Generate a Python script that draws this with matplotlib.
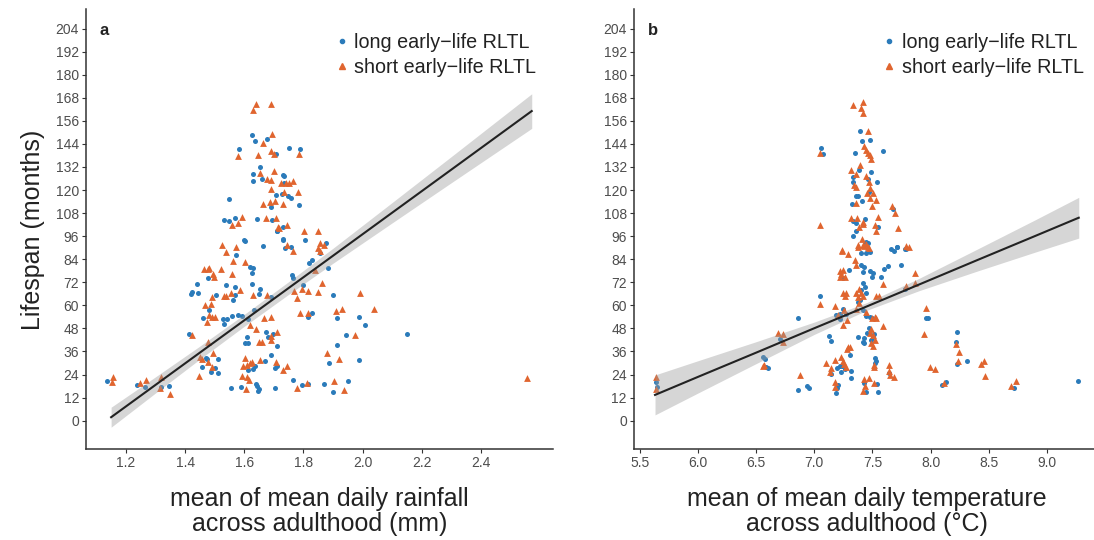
import numpy as np
import matplotlib
matplotlib.use("Agg")
import matplotlib.pyplot as plt
from matplotlib.lines import Line2D

plt.rcParams['font.family'] = ['Liberation Sans', 'DejaVu Sans']

# ---- panel a: rainfall vs lifespan ----
rain_long = [
    (1.137, 20.7), (1.236, 18.4), (1.264, 17.4), (1.317, 17.4), (1.344, 18.1),
    (1.602, 93.5), (1.662, 90.9), (1.712, 98.7), (1.730, 93.8), (1.804, 93.8), (1.739, 89.7),
    (1.757, 90.2), (1.876, 92.6), (1.856, 87.1), (1.571, 86.2), (1.820, 81.9), (1.828, 83.6),
    (1.883, 79.6), (1.621, 80.1), (1.628, 79.3), (1.627, 76.7), (1.478, 74.1), (1.441, 71.1),
    (1.422, 67.1), (1.419, 65.9), (1.445, 66.2), (1.537, 70.6), (1.569, 69.4), (1.627, 70.9),
    (1.655, 68.5), (1.651, 65.7), (1.504, 65.4), (1.569, 65.4), (1.563, 62.8), (1.689, 64.2),
    (1.761, 75.8), (1.764, 74.1), (1.800, 70.6), (1.901, 65.4), (1.633, 57.6), (1.482, 57.6),
    (1.461, 53.2), (1.529, 52.7), (1.543, 52.7), (1.560, 54.5), (1.578, 55.0), (1.594, 54.5),
    (1.614, 52.7), (1.532, 50.1), (1.828, 55.8), (1.814, 53.8), (1.989, 53.8), (2.009, 49.8),
    (1.914, 53.6), (1.412, 45.1), (1.673, 45.9), (1.681, 43.4), (1.696, 45.1), (1.608, 43.4),
    (1.602, 40.6), (1.613, 40.6), (1.712, 39.0), (1.943, 44.4), (2.151, 44.9), (1.692, 34.2),
    (1.914, 39.4), (1.470, 32.4), (1.475, 32.2), (1.512, 31.9), (1.501, 27.2), (1.457, 27.7),
    (1.487, 25.5), (1.510, 24.6), (1.636, 28.6), (1.614, 26.4), (1.628, 26.7), (1.670, 31.2),
    (1.705, 27.2), (1.712, 28.6), (1.555, 17.0), (1.589, 17.7), (1.640, 19.1), (1.642, 17.8),
    (1.647, 15.3), (1.650, 16.3), (1.704, 17.0), (1.989, 31.6), (1.887, 29.8), (1.766, 21.0),
    (1.796, 18.6), (1.815, 18.9), (1.870, 19.2), (1.899, 14.7), (1.952, 20.6),
    (1.627, 148.7), (1.636, 145.6), (1.676, 146.4), (1.584, 141.4), (1.707, 138.8), (1.752, 141.9),
    (1.652, 132.0), (1.630, 128.6), (1.630, 124.9), (1.659, 125.8), (1.732, 127.9), (1.736, 127.5),
    (1.734, 123.6), (1.709, 117.6), (1.728, 117.8), (1.749, 117.0), (1.757, 115.7), (1.786, 112.3),
    (1.690, 111.1), (1.549, 115.4), (1.532, 104.5), (1.549, 103.8), (1.569, 105.3), (1.643, 105.0),
    (1.695, 104.5), (1.711, 98.9), (1.732, 100.6), (1.600, 94.0), (1.730, 94.4), (1.790, 141.5),
]
rain_short = [
    (1.155, 22.6), (1.152, 20.0), (1.247, 19.8), (1.268, 21.2), (1.317, 22.9), (1.315, 16.9),
    (1.349, 13.9), (1.526, 91.4), (1.572, 90.5), (1.802, 98.7), (1.851, 98.7), (1.743, 91.4),
    (1.764, 88.4), (1.856, 92.3), (1.869, 91.4), (1.850, 89.7), (1.856, 88.4), (1.538, 87.6),
    (1.561, 83.2), (1.601, 82.7), (1.840, 78.4), (1.464, 78.7), (1.477, 78.7), (1.482, 79.2),
    (1.493, 76.3), (1.499, 74.6), (1.523, 78.7), (1.560, 76.3), (1.585, 68.0), (1.533, 65.0),
    (1.540, 65.0), (1.554, 66.6), (1.628, 65.4), (1.678, 65.4), (1.490, 64.2), (1.469, 60.2),
    (1.486, 60.5), (1.769, 67.6), (1.797, 68.5), (1.816, 67.5), (1.779, 64.0), (1.850, 67.1),
    (1.864, 71.8), (1.992, 66.2), (1.482, 55.0), (1.490, 53.8), (1.501, 53.8), (1.473, 51.5),
    (1.667, 53.2), (1.689, 53.8), (1.619, 49.8), (1.640, 47.5), (1.788, 56.2), (1.814, 56.2),
    (1.910, 57.1), (1.929, 57.9), (2.038, 57.9), (1.424, 44.6), (1.712, 45.9), (1.689, 44.3),
    (1.659, 41.1), (1.651, 41.1), (1.689, 42.0), (1.973, 44.6), (1.478, 41.1), (1.495, 35.4),
    (1.881, 35.4), (1.450, 33.3), (1.456, 31.9), (1.478, 30.7), (1.490, 28.1), (1.447, 23.4),
    (1.602, 32.4), (1.597, 28.4), (1.608, 29.0), (1.619, 29.8), (1.625, 30.7), (1.594, 23.4),
    (1.608, 22.9), (1.617, 21.2), (1.653, 31.6), (1.707, 30.3), (1.730, 26.4), (1.743, 28.6),
    (1.606, 16.3), (1.920, 32.1), (1.779, 17.2), (1.813, 19.8), (1.904, 20.8), (1.939, 15.9),
    (2.556, 22.2),
    (1.639, 164.8), (1.691, 164.8), (1.630, 161.7), (1.694, 149.0), (1.662, 144.4), (1.580, 137.8),
    (1.648, 138.3), (1.692, 140.4), (1.700, 138.8), (1.786, 138.8), (1.652, 129.1), (1.700, 130.0),
    (1.678, 125.8), (1.692, 125.3), (1.766, 124.9), (1.726, 123.9), (1.741, 123.9), (1.751, 123.9),
    (1.692, 120.6), (1.735, 118.9), (1.783, 119.2), (1.664, 112.8), (1.687, 113.7), (1.704, 114.5),
    (1.730, 112.8), (1.593, 106.2), (1.557, 101.9), (1.580, 102.7), (1.672, 105.7), (1.706, 105.3),
    (1.713, 101.0), (1.718, 100.1), (1.745, 102.0),
]
# fitted line and 95% band
rain_fit_x = [1.15, 1.30, 1.45, 1.60, 1.75, 1.90, 2.10, 2.30, 2.572]
rain_fit_y = [1.8, 18.6, 35.4, 52.2, 69.0, 85.8, 108.2, 130.6, 161.1]
rain_fit_lo = [-3.4, 14.4, 32.0, 49.1, 65.7, 81.9, 102.9, 123.8, 152.1]
rain_fit_hi = [7.0, 22.8, 38.8, 55.3, 72.3, 89.7, 113.5, 137.4, 170.1]

# ---- panel b: temperature vs lifespan ----
temp_long = [
    (5.637, 20.3), (5.649, 17.7), (6.555, 33.0), (6.575, 31.9), (6.603, 27.2), (6.583, 27.8),
    (6.704, 42.5), (6.856, 53.4), (7.048, 65.0), (7.128, 44.2), (7.148, 41.6), (6.864, 15.8),
    (6.939, 18.0), (6.956, 17.2), (7.197, 27.2), (7.148, 24.1), (7.202, 18.7), (7.197, 16.8),
    (7.191, 14.6), (7.240, 28.6), (7.263, 26.7), (7.225, 28.4), (7.234, 25.5), (7.314, 25.7),
    (7.314, 22.0), (7.306, 34.2), (7.300, 78.4), (7.248, 74.0), (7.243, 57.9), (7.185, 54.8),
    (7.220, 55.5), (7.225, 52.7), (7.277, 55.5), (7.449, 92.3), (7.406, 87.4), (7.449, 87.1),
    (7.483, 87.9), (7.406, 81.0), (7.426, 80.1), (7.420, 77.5), (7.506, 76.7), (7.500, 74.9),
    (7.483, 78.0), (7.415, 71.5), (7.435, 69.7), (7.406, 68.0), (7.449, 66.3), (7.377, 61.9),
    (7.392, 62.8), (7.420, 57.6), (7.449, 54.5), (7.572, 74.9), (7.601, 78.7), (7.635, 80.5),
    (7.664, 89.1), (7.684, 88.5), (7.715, 90.5), (7.750, 81.0), (7.781, 89.1), (7.483, 54.1),
    (7.495, 53.6), (7.472, 48.4), (7.457, 45.8), (7.510, 45.0), (7.506, 43.7), (7.492, 42.0),
    (7.426, 42.8), (7.377, 43.4), (7.415, 41.1), (7.429, 40.2), (7.520, 32.4), (7.529, 31.2),
    (7.520, 30.2), (7.426, 19.4), (7.449, 15.1), (7.540, 19.1), (7.549, 15.1), (7.644, 25.0),
    (7.784, 68.3), (7.965, 53.2), (7.980, 53.6),
    (7.392, 150.6), (7.412, 145.7), (7.478, 146.1), (7.054, 141.9), (7.074, 138.5), (7.352, 139.5),
    (7.595, 140.5), (7.386, 130.5), (7.492, 129.6), (7.334, 126.7), (7.329, 124.1), (7.541, 124.2),
    (7.464, 125.6), (7.472, 118.9), (7.355, 117.0), (7.380, 117.0), (7.412, 114.5), (7.323, 112.6),
    (7.673, 110.0), (7.334, 104.1), (7.363, 103.1), (7.438, 104.8), (7.544, 101.0), (7.355, 98.9),
    (7.332, 96.1), (7.449, 92.9), (7.463, 92.2), (7.713, 90.6), (7.787, 89.2),
    (8.229, 46.1), (8.218, 40.7), (8.229, 29.3), (8.315, 31.0), (8.100, 18.4), (8.129, 20.3),
    (8.716, 17.0), (9.267, 20.6),
]
temp_short = [
    (5.637, 22.5), (5.637, 16.5), (6.566, 29.0), (6.560, 28.4), (6.690, 45.8), (6.727, 45.1),
    (6.732, 41.1), (7.048, 60.7), (6.881, 23.6), (7.105, 29.8), (7.174, 31.6), (7.145, 27.2),
    (7.134, 25.5), (7.177, 20.3), (7.179, 17.7), (7.231, 33.3), (7.246, 31.2), (7.254, 29.5),
    (7.271, 28.1), (7.291, 38.2), (7.311, 38.2), (7.283, 37.1), (7.240, 88.5), (7.291, 86.7),
    (7.349, 83.6), (7.363, 81.0), (7.225, 78.0), (7.248, 78.4), (7.234, 76.3), (7.263, 74.9),
    (7.225, 74.9), (7.277, 66.3), (7.243, 66.6), (7.263, 64.9), (7.177, 59.7), (7.257, 57.6),
    (7.200, 55.0), (7.283, 52.4), (7.248, 49.8), (7.377, 90.5), (7.420, 91.4), (7.463, 90.5),
    (7.363, 66.3), (7.377, 64.5), (7.398, 66.3), (7.386, 68.3), (7.420, 64.9), (7.363, 57.9),
    (7.386, 61.0), (7.449, 56.7), (7.535, 64.9), (7.558, 64.9), (7.587, 71.1), (7.793, 90.9),
    (7.500, 53.2), (7.535, 53.2), (7.520, 54.1), (7.587, 49.3), (7.492, 47.5), (7.483, 45.8),
    (7.506, 44.6), (7.520, 42.0), (7.492, 40.2), (7.506, 39.0), (7.512, 29.0), (7.512, 28.1),
    (7.426, 21.5), (7.472, 22.0), (7.440, 18.2), (7.420, 15.6), (7.512, 19.8), (7.644, 29.0),
    (7.644, 26.0), (7.650, 23.8), (7.684, 22.5), (7.787, 70.1), (7.865, 76.7), (7.865, 71.5),
    (7.959, 58.4), (7.945, 44.9), (7.993, 28.1),
    (7.332, 164.3), (7.415, 166.0), (7.403, 162.6), (7.420, 160.0), (7.461, 150.8), (7.048, 139.5),
    (7.426, 143.0), (7.443, 140.9), (7.464, 139.5), (7.478, 138.3), (7.486, 136.0), (7.389, 133.1),
    (7.314, 130.5), (7.363, 128.4), (7.343, 122.7), (7.363, 121.8), (7.449, 127.4), (7.472, 124.4),
    (7.478, 120.9), (7.455, 118.3), (7.478, 115.7), (7.535, 114.9), (7.506, 118.7), (7.357, 113.1),
    (7.495, 111.7), (7.667, 111.9), (7.698, 108.3), (7.051, 101.9), (7.320, 105.3), (7.366, 105.5),
    (7.415, 103.6), (7.420, 102.4), (7.544, 105.9), (7.521, 101.9), (7.535, 98.9), (7.386, 101.0),
    (7.716, 100.5), (7.409, 94.4), (7.443, 92.0), (7.378, 91.5), (7.426, 90.8), (7.472, 90.1),
    (7.813, 90.6), (7.240, 88.9),
    (8.040, 26.9), (8.246, 35.9), (8.235, 30.8), (8.430, 29.5), (8.458, 30.8), (8.470, 23.4),
    (8.114, 19.6), (8.690, 18.2), (8.736, 20.4), (8.220, 40.0),
]
temp_fit_x = [5.63, 6.0, 6.5, 7.0, 7.45, 7.9, 8.4, 8.9, 9.275]
temp_fit_y = [13.4, 22.8, 35.4, 48.1, 59.4, 70.8, 83.5, 96.1, 105.6]
temp_fit_lo = [3.0, 14.4, 29.7, 44.9, 57.4, 67.6, 77.8, 87.7, 95.0]
temp_fit_hi = [23.8, 31.2, 41.1, 51.3, 61.4, 74.0, 89.2, 104.5, 116.2]

y_ticks = list(range(0, 205, 12))
rain_ticks = [1.2, 1.4, 1.6, 1.8, 2.0, 2.2, 2.4]
temp_ticks = [5.5, 6.0, 6.5, 7.0, 7.5, 8.0, 8.5, 9.0]

BLUE = '#2b7bba'
ORANGE = '#e0652f'
AXIS_COL = '#333333'
TEXT_COL = '#4d4d4d'


def draw_panel(ax, long_pts, short_pts, fx, fy, flo, fhi, letter, xlabel, xticks, xlim):
    lx, ly = zip(*long_pts)
    sx, sy = zip(*short_pts)
    ax.scatter(lx, ly, s=13, marker='o', color=BLUE, linewidths=0, zorder=2)
    ax.scatter(sx, sy, s=24, marker='^', color=ORANGE, linewidths=0, zorder=2)
    ax.fill_between(fx, flo, fhi, color='#999999', alpha=0.4, linewidth=0, zorder=3)
    ax.plot(fx, fy, color='#222222', linewidth=1.5, zorder=4)

    ax.set_xlim(*xlim)
    ax.set_ylim(-15, 214)
    ax.set_yticks(y_ticks)
    ax.set_xticks(xticks)
    ax.set_xticklabels([f'{t:.1f}' for t in xticks])
    for s in ['top', 'right']:
        ax.spines[s].set_visible(False)
    for s in ['left', 'bottom']:
        ax.spines[s].set_color(AXIS_COL)
        ax.spines[s].set_linewidth(1.1)
    ax.tick_params(axis='both', length=3, width=0.8, color=AXIS_COL,
                   labelsize=10, labelcolor=TEXT_COL, pad=2)
    ax.set_xlabel(xlabel, fontsize=18, color='#222222', labelpad=12, linespacing=1.05)
    ax.text(0.03, 0.952, letter, transform=ax.transAxes, fontsize=12,
            fontweight='bold', color='#222222', va='center', ha='left')

    handles = [
        Line2D([], [], marker='o', linestyle='none', color=BLUE, markersize=3),
        Line2D([], [], marker='^', linestyle='none', color=ORANGE, markersize=4),
    ]
    ax.legend(handles, ['long early\u2212life RLTL', 'short early\u2212life RLTL'],
              loc='upper left', bbox_to_anchor=(0.505, 0.977), frameon=False,
              fontsize=14.2, handlelength=0.6, handletextpad=0.35, labelspacing=0.27,
              borderaxespad=0.3, labelcolor='#222222')


fig = plt.figure(figsize=(10.94, 5.40), dpi=100)
ax_a = fig.add_axes([0.0786, 0.1676, 0.4269, 0.815])
ax_b = fig.add_axes([0.5793, 0.1676, 0.4261, 0.815])

draw_panel(ax_a, rain_long, rain_short, rain_fit_x, rain_fit_y, rain_fit_lo, rain_fit_hi,
           'a', 'mean of mean daily rainfall\nacross adulthood (mm)', rain_ticks, (1.065, 2.644))
draw_panel(ax_b, temp_long, temp_short, temp_fit_x, temp_fit_y, temp_fit_lo, temp_fit_hi,
           'b', 'mean of mean daily temperature\nacross adulthood (\u00b0C)', temp_ticks, (5.447, 9.457))

ax_a.set_ylabel('Lifespan (months)', fontsize=18, color='#222222', labelpad=8)

fig.savefig('out.png', dpi=100)
